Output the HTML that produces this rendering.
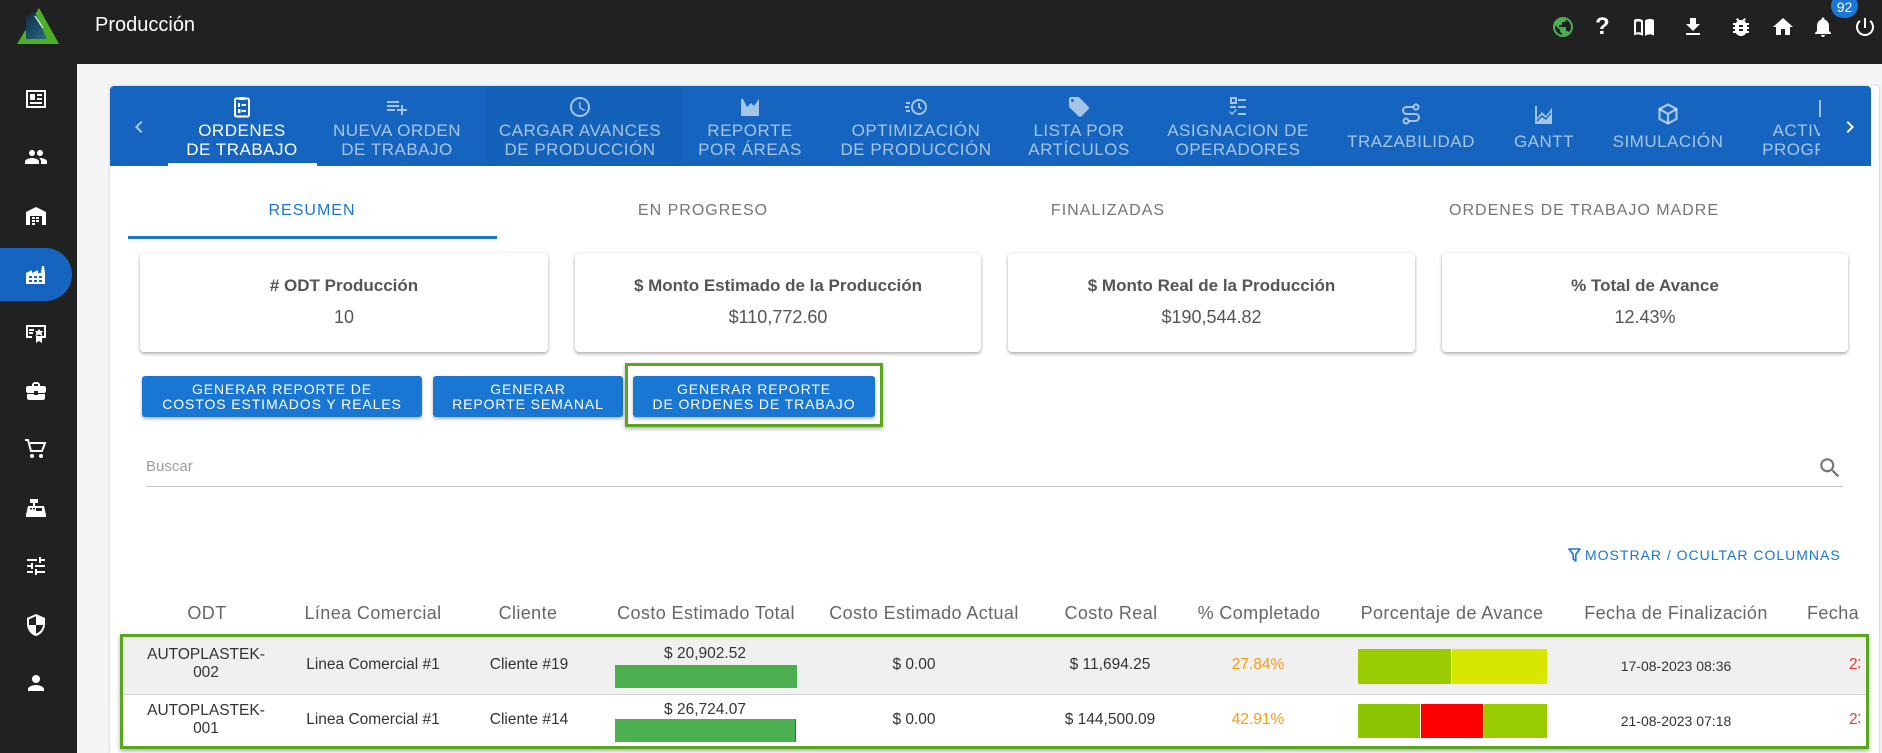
<!DOCTYPE html>
<html><head><meta charset="utf-8">
<style>
*{margin:0;padding:0;box-sizing:border-box}
html,body{width:1882px;height:753px;overflow:hidden;background:#f5f5f5;font-family:"Liberation Sans",Arial,sans-serif}
.a{position:absolute}
.t{position:absolute;white-space:nowrap;text-align:center;transform:translateX(-50%)}
svg{position:absolute;overflow:visible}
.tab{position:absolute;white-space:nowrap;text-align:center;transform:translateX(-50%);font-size:17px;letter-spacing:.5px;line-height:19px;color:rgba(255,255,255,.62)}
.st{position:absolute;white-space:nowrap;text-align:center;transform:translateX(-50%);font-size:16px;letter-spacing:1px;line-height:20px;top:201px;color:#757575}
.card{position:absolute;top:253px;height:99px;background:#fff;border-radius:4px;box-shadow:0 2px 3px rgba(0,0,0,.28),0 0 3px rgba(0,0,0,.1)}
.ct{position:absolute;left:0;right:0;text-align:center;color:#555}
.btn{position:absolute;top:376px;height:41px;background:#1976d2;border-radius:3px;box-shadow:0 2px 3px rgba(0,0,0,.3);color:#fff;font-size:14px;letter-spacing:.9px;line-height:15px;text-align:center;padding-top:6px}
.th{position:absolute;white-space:nowrap;text-align:center;transform:translateX(-50%);font-size:18px;letter-spacing:.4px;line-height:22px;top:602px;color:#666}
.td{position:absolute;white-space:nowrap;text-align:center;transform:translateX(-50%);font-size:15.5px;line-height:18px;color:#333}
</style></head><body>

<!-- top header -->
<div class="a" style="left:0;top:0;width:1882px;height:64px;background:#212121"></div>
<div class="a" style="left:0;top:64px;width:77px;height:689px;background:#212121"></div>

<!-- logo -->
<svg style="left:17px;top:8px" width="42" height="36" viewBox="0 0 42 36">
<defs><linearGradient id="lg" x1="0" y1="0" x2="1" y2="1"><stop offset="0" stop-color="#0c2a48"/><stop offset="1" stop-color="#2d6e80"/></linearGradient></defs>
<polygon points="22,0 42,36 0,36" fill="#4caf24"/>
<polygon points="9,9 18,4 30,31 9,31" fill="url(#lg)"/>
<line x1="18" y1="8" x2="26" y2="20" stroke="#cfe3ea" stroke-width="1.5"/>
</svg>
<div class="a" style="left:95px;top:13px;font-size:20px;color:#fff;line-height:24px">Producción</div>

<!-- header right icons -->
<svg style="left:1551px;top:15px" width="24" height="24" viewBox="0 0 24 24"><path fill="#4caf50" d="M12 2C6.48 2 2 6.48 2 12s4.48 10 10 10 10-4.48 10-10S17.52 2 12 2zm-1 17.93c-3.95-.49-7-3.85-7-7.93 0-.62.08-1.21.21-1.79L9 15v1c0 1.1.9 2 2 2v1.93zm6.9-2.54c-.26-.81-1-1.39-1.9-1.39h-1v-3c0-.55-.45-1-1-1H8v-2h2c.55 0 1-.45 1-1V7h2c1.1 0 2-.9 2-2v-.41c2.93 1.19 5 4.06 5 7.41 0 2.08-.8 3.97-2.1 5.39z"/></svg>
<div class="a" style="left:1595px;top:13px;font-size:24px;font-weight:bold;color:#fff;line-height:28px">?</div>
<svg style="left:1632px;top:15px" width="24" height="24" viewBox="0 0 24 24"><path fill="#fff" d="M2 5c2.5-1.5 6-1.5 9 .5V21c-3-2-6.5-2-9-.5zM13 5.5c3-2 6.5-2 9-.5v15.5c-2.5-1.5-6-1.5-9 .5z"/><path fill="#212121" d="M4 7c1.8-.7 3.8-.6 5 .2v10.6c-1.4-.6-3.3-.7-5-.2z"/></svg>
<svg style="left:1681px;top:15px" width="24" height="24" viewBox="0 0 24 24"><path fill="#fff" d="M19 9h-4V3H9v6H5l7 7 7-7zM5 18v2h14v-2H5z"/></svg>
<svg style="left:1729px;top:15px" width="24" height="24" viewBox="0 0 24 24"><path fill="#fff" d="M20 8h-2.81c-.45-.78-1.07-1.45-1.82-1.96L17 4.41 15.59 3l-2.17 2.17C12.96 5.06 12.49 5 12 5c-.49 0-.96.06-1.41.17L8.41 3 7 4.41l1.62 1.63C7.88 6.55 7.26 7.22 6.81 8H4v2h2.09c-.05.33-.09.66-.09 1v1H4v2h2v1c0 .34.04.67.09 1H4v2h2.81c1.04 1.79 2.97 3 5.19 3s4.15-1.21 5.19-3H20v-2h-2.09c.05-.33.09-.66.09-1v-1h2v-2h-2v-1c0-.34-.04-.67-.09-1H20V8zm-6 8h-4v-2h4v2zm0-4h-4v-2h4v2z"/></svg>
<svg style="left:1771px;top:15px" width="24" height="24" viewBox="0 0 24 24"><path fill="#fff" d="M10 20v-6h4v6h5v-8h3L12 3 2 12h3v8z"/></svg>
<svg style="left:1811px;top:15px" width="24" height="24" viewBox="0 0 24 24"><path fill="#fff" d="M12 22c1.1 0 2-.9 2-2h-4c0 1.1.89 2 2 2zm6-6v-5c0-3.07-1.64-5.64-4.5-6.32V4c0-.83-.67-1.5-1.5-1.5s-1.5.67-1.5 1.5v.68C7.63 5.36 6 7.92 6 11v5l-2 2v1h16v-1l-2-2z"/></svg>
<svg style="left:1853px;top:15px" width="24" height="24" viewBox="0 0 24 24"><path fill="#fff" d="M13 3h-2v10h2V3zm4.83 2.17l-1.42 1.42C17.99 7.86 19 9.81 19 12c0 3.87-3.13 7-7 7s-7-3.13-7-7c0-2.19 1.01-4.14 2.58-5.42L6.17 5.17C4.23 6.82 3 9.26 3 12c0 4.97 4.03 9 9 9s9-4.03 9-9c0-2.74-1.23-5.18-3.17-6.83z"/></svg>
<div class="a" style="left:1831px;top:-6px;width:27px;height:24px;border-radius:12px;background:#1976d2;color:#fff;font-size:14px;line-height:26px;text-align:center">92</div>

<!-- sidebar icons -->
<div class="a" style="left:0;top:248px;width:72px;height:53px;background:#1565c0;border-radius:0 27px 27px 0"></div>
<svg style="left:24px;top:87px" width="24" height="24" viewBox="0 0 24 24"><rect x="3" y="4" width="18" height="16" fill="none" stroke="#fff" stroke-width="2"/><rect x="6" y="7" width="5" height="6" fill="#fff"/><rect x="13" y="7" width="5" height="2" fill="#fff"/><rect x="13" y="11" width="5" height="2" fill="#fff"/><rect x="6" y="15" width="12" height="2" fill="#fff"/></svg>
<svg style="left:24px;top:145px" width="24" height="24" viewBox="0 0 24 24"><path fill="#fff" d="M16 11c1.66 0 2.99-1.34 2.99-3S17.66 5 16 5c-1.66 0-3 1.34-3 3s1.34 3 3 3zm-8 0c1.66 0 2.99-1.34 2.99-3S9.66 5 8 5C6.34 5 5 6.34 5 8s1.34 3 3 3zm0 2c-2.33 0-7 1.17-7 3.5V19h14v-2.5c0-2.33-4.67-3.5-7-3.5zm8 0c-.29 0-.62.02-.97.05 1.16.84 1.97 1.97 1.97 3.45V19h6v-2.5c0-2.33-4.67-3.5-7-3.5z"/></svg>
<svg style="left:24px;top:204px" width="24" height="24" viewBox="0 0 24 24"><path fill="#fff" d="M22 21V8L12 3 2 8v13h4v-9h12v9z"/><rect x="8" y="13" width="3" height="2" fill="#fff"/><rect x="12" y="13" width="3" height="2" fill="#fff"/><rect x="8" y="16" width="3" height="2" fill="#fff"/><rect x="12" y="16" width="3" height="2" fill="#fff"/><rect x="8" y="19" width="3" height="2" fill="#fff"/></svg>
<svg style="left:24px;top:263px" width="24" height="24" viewBox="0 0 24 24"><path fill="#fff" d="M2 21V10l6-3v3l6-3v3l3 0 1-7h2l1 7v11z"/><rect x="5" y="13" width="3" height="2" fill="#1565c0"/><rect x="10" y="13" width="3" height="2" fill="#1565c0"/><rect x="15" y="13" width="3" height="2" fill="#1565c0"/><rect x="5" y="17" width="3" height="2" fill="#1565c0"/><rect x="10" y="17" width="3" height="2" fill="#1565c0"/><rect x="15" y="17" width="3" height="2" fill="#1565c0"/></svg>
<svg style="left:24px;top:321px" width="24" height="24" viewBox="0 0 24 24"><path fill="#fff" d="M2 4h20v13h-6v-2h4V6H4v9h4v2H2z"/><rect x="5" y="8" width="5" height="2" fill="#fff"/><rect x="5" y="11" width="4" height="2" fill="#fff"/><polygon fill="#fff" points="15,8 16.5,10 19,10 17.5,12 18.5,15 15,13.5 11.5,15 12.5,12 11,10 13.5,10"/><polygon fill="#fff" points="12,15 12,22 15,20 18,22 18,15"/></svg>
<svg style="left:24px;top:379px" width="24" height="24" viewBox="0 0 24 24"><path fill="#fff" d="M10 16v-1H3.01L3 19c0 1.11.89 2 2 2h14c1.11 0 2-.89 2-2v-4h-7v1h-4zm10-9h-4.01V5l-2-2h-4l-2 2v2H4c-1.1 0-2 .9-2 2v3c0 1.11.89 2 2 2h6v-2h4v2h6c1.1 0 2-.9 2-2V9c0-1.1-.9-2-2-2zm-6 0h-4V5h4v2z"/></svg>
<svg style="left:24px;top:437px" width="24" height="24" viewBox="0 0 24 24"><path fill="none" stroke="#fff" stroke-width="2" d="M1 3h3l3 11h11l3-8H6"/><circle cx="8" cy="19" r="2" fill="#fff"/><circle cx="17" cy="19" r="2" fill="#fff"/></svg>
<svg style="left:24px;top:495px" width="24" height="24" viewBox="0 0 24 24"><path fill="#fff" d="M2 20l2-9h16l2 9z"/><rect x="6" y="4" width="8" height="4" fill="#fff"/><rect x="9" y="8" width="2" height="3" fill="#fff"/><rect x="6" y="13" width="2" height="1.5" fill="#212121"/><rect x="9" y="13" width="2" height="1.5" fill="#212121"/><rect x="12" y="13" width="6" height="3" fill="#212121"/><rect x="2" y="20" width="20" height="2" fill="#fff"/></svg>
<svg style="left:24px;top:554px" width="24" height="24" viewBox="0 0 24 24"><path fill="#fff" d="M3 17v2h6v-2H3zM3 5v2h10V5H3zm10 16v-2h8v-2h-8v-2h-2v6h2zM7 9v2H3v2h4v2h2V9H7zm14 4v-2H11v2h10zm-6-4h2V7h4V5h-4V3h-2v6z"/></svg>
<svg style="left:24px;top:613px" width="24" height="24" viewBox="0 0 24 24"><path fill="#fff" d="M12 1L3 5v6c0 5.55 3.84 10.74 9 12 5.16-1.26 9-6.45 9-12V5l-9-4z"/><path fill="#212121" d="M12 12h7c-.5 4-3.2 7.4-7 8.6zM12 3.3V12H5V6.3z"/></svg>
<svg style="left:24px;top:671px" width="24" height="24" viewBox="0 0 24 24"><path fill="#fff" d="M12 12c2.21 0 4-1.79 4-4s-1.79-4-4-4-4 1.79-4 4 1.79 4 4 4zm0 2c-2.67 0-8 1.34-8 4v2h16v-2c0-2.66-5.33-4-8-4z"/></svg>

<!-- white panel -->
<div class="a" style="left:110px;top:86px;width:1769px;height:667px;background:#fff;box-shadow:0 0 3px rgba(0,0,0,.18)"></div>
<div class="a" style="left:1879px;top:86px;width:1px;height:667px;background:#dcdcdc"></div>

<!-- blue tab bar -->
<div class="a" style="left:110px;top:86px;width:1761px;height:80px;background:#1565c0;border-radius:4px 4px 0 0"></div>
<div class="a" style="left:486px;top:86px;width:196px;height:80px;background:rgba(0,0,0,.035)"></div>
<svg style="left:127px;top:115px" width="24" height="24" viewBox="0 0 24 24"><path fill="rgba(255,255,255,.65)" d="M15.41 7.41L14 6l-6 6 6 6 1.41-1.41L10.83 12z"/></svg>
<svg style="left:1838px;top:115px" width="24" height="24" viewBox="0 0 24 24"><path fill="#fff" d="M10 6L8.59 7.41 13.17 12l-4.58 4.59L10 18l6-6z"/></svg>

<!-- tab icons -->
<svg style="left:230px;top:95px" width="24" height="24" viewBox="0 0 24 24"><rect x="5" y="3.5" width="14" height="18" rx="1.5" fill="none" stroke="#fff" stroke-width="2"/><rect x="9" y="2" width="6" height="3" fill="#fff"/><rect x="8" y="8" width="2" height="4" fill="#fff"/><rect x="11.5" y="9" width="4.5" height="2" fill="#fff"/><rect x="8" y="14" width="2.5" height="4" fill="#fff"/><rect x="11.5" y="15" width="4.5" height="2" fill="#fff"/></svg>
<svg style="left:385px;top:95px" width="24" height="24" viewBox="0 0 24 24"><path fill="rgba(255,255,255,.62)" d="M14 10H2v2h12v-2zm0-4H2v2h12V6zm4 8v-4h-2v4h-4v2h4v4h2v-4h4v-2h-4zM2 16h8v-2H2v2z"/></svg>
<svg style="left:568px;top:95px" width="24" height="24" viewBox="0 0 24 24"><path fill="rgba(255,255,255,.62)" d="M11.99 2C6.47 2 2 6.48 2 12s4.47 10 9.99 10C17.52 22 22 17.52 22 12S17.52 2 11.99 2zM12 20c-4.42 0-8-3.58-8-8s3.58-8 8-8 8 3.58 8 8-3.58 8-8 8zm.5-13H11v6l5.25 3.15.75-1.23-4.5-2.67z"/></svg>
<svg style="left:738px;top:95px" width="24" height="24" viewBox="0 0 24 24"><polygon fill="rgba(255,255,255,.62)" points="3,21 3,4 5,4 9,12 13,8 16,11 21,4 21,21"/></svg>
<svg style="left:904px;top:95px" width="24" height="24" viewBox="0 0 24 24"><circle cx="15" cy="12" r="7" fill="none" stroke="rgba(255,255,255,.62)" stroke-width="2"/><path d="M15 8v4l2.5 2" fill="none" stroke="rgba(255,255,255,.62)" stroke-width="2"/><rect x="2" y="7" width="4" height="2" fill="rgba(255,255,255,.62)"/><rect x="1" y="11" width="4" height="2" fill="rgba(255,255,255,.62)"/><rect x="2" y="15" width="4" height="2" fill="rgba(255,255,255,.62)"/></svg>
<svg style="left:1067px;top:95px" width="24" height="24" viewBox="0 0 24 24"><path fill="rgba(255,255,255,.62)" d="M21.41 11.58l-9-9C12.05 2.22 11.55 2 11 2H4c-1.1 0-2 .9-2 2v7c0 .55.22 1.05.59 1.42l9 9c.36.36.86.58 1.41.58.55 0 1.05-.22 1.41-.59l7-7c.37-.36.59-.86.59-1.41 0-.55-.23-1.06-.59-1.42zM5.5 7C4.67 7 4 6.33 4 5.5S4.67 4 5.5 4 7 4.67 7 5.5 6.33 7 5.5 7z"/></svg>
<svg style="left:1226px;top:95px" width="24" height="24" viewBox="0 0 24 24"><g fill="rgba(255,255,255,.62)"><rect x="5" y="3" width="5" height="5" fill="none" stroke="rgba(255,255,255,.62)" stroke-width="2"/><rect x="12" y="4" width="8" height="2"/><rect x="12" y="11" width="8" height="2"/><rect x="12" y="18" width="8" height="2"/><path d="M4 16l2 2 4-4 1 1-5 5-3-3z"/><rect x="4" y="11" width="6" height="2"/></g></svg>
<svg style="left:1399px;top:102px" width="24" height="24" viewBox="0 0 24 24"><g fill="none" stroke="rgba(255,255,255,.62)" stroke-width="2"><circle cx="17" cy="5" r="2.5"/><circle cx="7" cy="19" r="2.5"/><path d="M14.5 5H7.5a3.5 3.5 0 0 0 0 7h9a3.5 3.5 0 0 1 0 7H9.5"/></g></svg>
<svg style="left:1532px;top:103px" width="24" height="24" viewBox="0 0 24 24"><path fill="rgba(255,255,255,.62)" d="M3 3h2v12l5-6 4 4 6-8v16H3z"/><path fill="#1565c0" d="M5 17l5-5 4 3 5-6v2l-5 6-4-3-5 5z"/></svg>
<svg style="left:1656px;top:102px" width="24" height="24" viewBox="0 0 24 24"><g fill="none" stroke="rgba(255,255,255,.62)" stroke-width="2.2" stroke-linejoin="round"><path d="M12 2.5l8.5 4.5v10L12 21.5 3.5 17V7z"/><path d="M3.5 7L12 12l8.5-5M12 12v9.5"/></g></svg>
<div class="a" style="left:1819px;top:100px;width:2px;height:17px;background:rgba(255,255,255,.6)"></div>

<!-- tab labels -->
<div class="tab" style="left:242px;top:121px;color:#fff">ORDENES<br>DE TRABAJO</div>
<div class="a" style="left:168px;top:163px;width:149px;height:3px;background:#fff"></div>
<div class="tab" style="left:397px;top:121px">NUEVA ORDEN<br>DE TRABAJO</div>
<div class="tab" style="left:580px;top:121px">CARGAR AVANCES<br>DE PRODUCCIÓN</div>
<div class="tab" style="left:750px;top:121px">REPORTE<br>POR ÁREAS</div>
<div class="tab" style="left:916px;top:121px">OPTIMIZACIÓN<br>DE PRODUCCIÓN</div>
<div class="tab" style="left:1079px;top:121px">LISTA POR<br>ARTÍCULOS</div>
<div class="tab" style="left:1238px;top:121px">ASIGNACION DE<br>OPERADORES</div>
<div class="tab" style="left:1411px;top:132px">TRAZABILIDAD</div>
<div class="tab" style="left:1544px;top:132px">GANTT</div>
<div class="tab" style="left:1668px;top:132px">SIMULACIÓN</div>
<div class="a" style="left:1740px;top:110px;width:80px;height:56px;overflow:hidden">
  <div class="tab" style="left:92px;top:11px">ACTIVIDADES<br>PROGRAMADAS</div>
</div>

<!-- secondary tabs -->
<div class="st" style="left:312px;color:#1976d2">RESUMEN</div>
<div class="st" style="left:703px">EN PROGRESO</div>
<div class="st" style="left:1108px">FINALIZADAS</div>
<div class="st" style="left:1584px">ORDENES DE TRABAJO MADRE</div>
<div class="a" style="left:128px;top:236px;width:369px;height:3px;background:#1976d2"></div>

<!-- cards -->
<div class="card" style="left:140px;width:408px"><div class="ct" style="top:22px;font-size:17px;font-weight:bold;line-height:22px">#&nbsp;ODT Producción</div><div class="ct" style="top:53px;font-size:18px;line-height:22px">10</div></div>
<div class="card" style="left:575px;width:406px"><div class="ct" style="top:22px;font-size:17px;font-weight:bold;line-height:22px">$ Monto Estimado de la Producción</div><div class="ct" style="top:53px;font-size:18px;line-height:22px">$110,772.60</div></div>
<div class="card" style="left:1008px;width:407px"><div class="ct" style="top:22px;font-size:17px;font-weight:bold;line-height:22px">$ Monto Real de la Producción</div><div class="ct" style="top:53px;font-size:18px;line-height:22px">$190,544.82</div></div>
<div class="card" style="left:1442px;width:406px"><div class="ct" style="top:22px;font-size:17px;font-weight:bold;line-height:22px">% Total de Avance</div><div class="ct" style="top:53px;font-size:18px;line-height:22px">12.43%</div></div>

<!-- buttons -->
<div class="btn" style="left:142px;width:280px">GENERAR REPORTE DE<br>COSTOS ESTIMADOS Y REALES</div>
<div class="btn" style="left:433px;width:190px">GENERAR<br>REPORTE SEMANAL</div>
<div class="a" style="left:625px;top:363px;width:258px;height:64px;border:3px solid #5ba61f;box-shadow:0 2px 4px rgba(0,0,0,.3)"></div>
<div class="btn" style="left:633px;width:242px">GENERAR REPORTE<br>DE ORDENES DE TRABAJO</div>

<!-- search -->
<div class="a" style="left:146px;top:458px;font-size:15px;line-height:18px;color:#9e9e9e">Buscar</div>
<div class="a" style="left:146px;top:486px;width:1697px;height:1px;background:#c8c8c8"></div>
<svg style="left:1817px;top:455px" width="26" height="26" viewBox="0 0 24 24"><path fill="#777" d="M15.5 14h-.79l-.28-.27C15.41 12.59 16 11.11 16 9.5 16 5.91 13.09 3 9.5 3S3 5.91 3 9.5 5.91 16 9.5 16c1.61 0 3.09-.59 4.23-1.57l.27.28v.79l5 4.99L20.49 19l-4.99-5zm-6 0C7.01 14 5 11.99 5 9.5S7.01 5 9.5 5 14 7.01 14 9.5 11.99 14 9.5 14z"/></svg>

<!-- mostrar / ocultar -->
<svg style="left:1568px;top:548px" width="13" height="14" viewBox="0 0 13 14"><path d="M1 1h11L7.8 6.5V13L5.2 11V6.5z" fill="none" stroke="#1976d2" stroke-width="1.6" stroke-linejoin="round"/></svg>
<div class="a" style="left:1585px;top:547px;font-size:14px;letter-spacing:1px;line-height:17px;color:#1976d2;white-space:nowrap">MOSTRAR / OCULTAR COLUMNAS</div>

<!-- table header -->
<div class="th" style="left:207px">ODT</div>
<div class="th" style="left:373px">Línea Comercial</div>
<div class="th" style="left:528px">Cliente</div>
<div class="th" style="left:706px">Costo Estimado Total</div>
<div class="th" style="left:924px">Costo Estimado Actual</div>
<div class="th" style="left:1111px">Costo Real</div>
<div class="th" style="left:1259px">% Completado</div>
<div class="th" style="left:1452px">Porcentaje de Avance</div>
<div class="th" style="left:1676px">Fecha de Finalización</div>
<div class="a" style="left:1807px;top:602px;width:53px;overflow:hidden;font-size:18px;letter-spacing:.4px;line-height:22px;color:#666;white-space:nowrap">Fecha</div>

<!-- table rows -->
<div class="a" style="left:120px;top:634px;width:1749px;height:115px;border:3px solid #5ba61f;box-shadow:0 2px 4px rgba(0,0,0,.35);background:#fff"></div>
<div class="a" style="left:123px;top:637px;width:1743px;height:57px;background:#f0f0f0"></div>
<div class="a" style="left:123px;top:694px;width:1743px;height:1px;background:#d6d6d6"></div>

<!-- row 1 -->
<div class="td" style="left:206px;top:646px">AUTOPLASTEK-<br>002</div>
<div class="td" style="left:373px;top:656px">Linea Comercial #1</div>
<div class="td" style="left:529px;top:656px">Cliente #19</div>
<div class="td" style="left:705px;top:645px">$ 20,902.52</div>
<div class="a" style="left:615px;top:665px;width:182px;height:23px;background:#4caf50"></div>
<div class="td" style="left:914px;top:656px">$ 0.00</div>
<div class="td" style="left:1110px;top:656px">$ 11,694.25</div>
<div class="td" style="left:1258px;top:656px;color:#fb9a0e">27.84%</div>
<div class="a" style="left:1358px;top:649px;width:93px;height:35px;background:#99cc00"></div>
<div class="a" style="left:1452px;top:649px;width:95px;height:35px;background:#d6e800"></div>
<div class="td" style="left:1676px;top:657px;font-size:14px">17-08-2023 08:36</div>
<div class="a" style="left:1849px;top:656px;width:11px;overflow:hidden;font-size:15.5px;line-height:18px;color:#e53935">23</div>

<!-- row 2 -->
<div class="td" style="left:206px;top:702px">AUTOPLASTEK-<br>001</div>
<div class="td" style="left:373px;top:711px">Linea Comercial #1</div>
<div class="td" style="left:529px;top:711px">Cliente #14</div>
<div class="td" style="left:705px;top:701px">$ 26,724.07</div>
<div class="a" style="left:615px;top:719px;width:180px;height:23px;background:#4caf50"></div>
<div class="a" style="left:795px;top:719px;width:1px;height:23px;background:#555"></div>
<div class="td" style="left:914px;top:711px">$ 0.00</div>
<div class="td" style="left:1110px;top:711px">$ 144,500.09</div>
<div class="td" style="left:1258px;top:711px;color:#fb9a0e">42.91%</div>
<div class="a" style="left:1358px;top:704px;width:62px;height:34px;background:#8bc400"></div>
<div class="a" style="left:1421px;top:704px;width:62px;height:34px;background:#ff0000"></div>
<div class="a" style="left:1484px;top:704px;width:63px;height:34px;background:#99cc00"></div>
<div class="td" style="left:1676px;top:712px;font-size:14px">21-08-2023 07:18</div>
<div class="a" style="left:1849px;top:711px;width:11px;overflow:hidden;font-size:15.5px;line-height:18px;color:#e53935">23</div>

</body></html>
